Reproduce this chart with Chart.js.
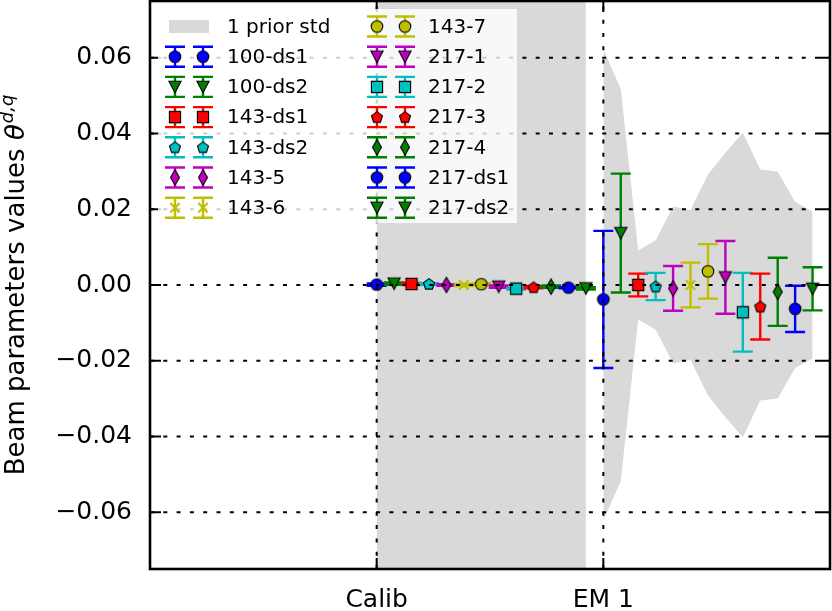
<!DOCTYPE html>
<html><head><meta charset="utf-8">
<script src="https://cdn.jsdelivr.net/npm/chart.js@4.4.0/dist/chart.umd.min.js"></script>
<style>html,body{margin:0;padding:0;background:#fff;}#wrap{width:832px;height:611px;}</style>
</head><body><div id="wrap"><canvas id="c" width="832" height="611"></canvas></div>
<script>
// ---------------- data ----------------
const categories = ['Calib', 'EM 1'];
const seriesNames = ['100-ds1','100-ds2','143-ds1','143-ds2','143-5','143-6','143-7','217-1','217-2','217-3','217-4','217-ds1','217-ds2'];
const calibValues = [0.0001, 0.00035, 0.00027, 0.00027, 0.0000, 0.0000, 0.0002, -0.00044, -0.00097, -0.0006, -0.00044, -0.0007, -0.00088];
const calibErrors = [0.0003, 0.0003, 0.0003, 0.0002, 0.0002, 0.0003, 0.0003, 0.0003, 0.0002, 0.0003, 0.0003, 0.0002, 0.0003];
const em1Values = [-0.0038, 0.0137, 0.0000, -0.0004, -0.0009, 0.0000, 0.0036, 0.0020, -0.0072, -0.0057, -0.0018, -0.0063, -0.0010];
const em1Errors = [0.0181, 0.0157, 0.0030, 0.0036, 0.0059, 0.0059, 0.0072, 0.0096, 0.0104, 0.0087, 0.0090, 0.0061, 0.0057];
const priorStdCalib = [1, 1, 1, 1, 1, 1, 1, 1, 1, 1, 1, 1, 1];
const priorStdEm1 = [0.0622, 0.0518, 0.0091, 0.0118, 0.0207, 0.0198, 0.0292, 0.0349, 0.0402, 0.0305, 0.0300, 0.0219, 0.0194];
const yTicks = [-0.06, -0.04, -0.02, 0.00, 0.02, 0.04, 0.06];
const xTicks = [0, 1];
const seriesColors = ['#0000ff','#008000','#ff0000','#00bfbf','#bf00bf','#bfbf00','#bfbf00','#bf00bf','#00bfbf','#ff0000','#008000','#0000ff','#008000'];
const seriesMarkers = ['o','v','s','p','d','x','o','v','s','p','d','o','v'];
const bandLabel = '1 prior std';
const yTitle = 'Beam parameters values ';

// ---------------- styles ----------------
const FONT = '"DejaVu Sans", "Liberation Sans", sans-serif';
const BAND = '#d9d9d9';
const N = seriesNames.length;
const ERR_W = 2.4;

function makeMarker(type, color) {
  const s = 22, c = document.createElement('canvas');
  c.width = s; c.height = s;
  const g = c.getContext('2d');
  g.translate(s / 2, s / 2);
  g.lineWidth = 1.1; g.strokeStyle = '#000'; g.fillStyle = color;
  g.beginPath();
  if (type === 'o') g.arc(0, 0, 5.8, 0, 2 * Math.PI);
  else if (type === 'v') { g.moveTo(-6.1, -5.8); g.lineTo(6.1, -5.8); g.lineTo(0, 5.8); g.closePath(); }
  else if (type === 's') g.rect(-5.6, -5.6, 11.2, 11.2);
  else if (type === 'p') {
    for (let k = 0; k < 5; k++) {
      const a = -Math.PI / 2 + k * 2 * Math.PI / 5;
      const px = 5.8 * Math.cos(a), py = 5.8 * Math.sin(a) + 0.4;
      k ? g.lineTo(px, py) : g.moveTo(px, py);
    }
    g.closePath();
  } else if (type === 'd') { g.moveTo(0, -7.7); g.lineTo(4.5, 0); g.lineTo(0, 7.7); g.lineTo(-4.5, 0); g.closePath(); }
  else if (type === 'x') {
    g.strokeStyle = color; g.lineWidth = 2.2;
    g.moveTo(-4.7, -4.7); g.lineTo(4.7, 4.7); g.moveTo(4.7, -4.7); g.lineTo(-4.7, 4.7);
    g.stroke();
    return c;
  }
  g.fill(); g.stroke();
  return c;
}
const markerImgs = seriesNames.map((n, i) => makeMarker(seriesMarkers[i], seriesColors[i]));

// ---------------- datasets ----------------
const datasets = [];
function band(std, base) {
  datasets.push({ type: 'line', data: std.map((s, i) => ({ x: base + i / N, y: s })),
    borderWidth: 0, borderColor: 'rgba(0,0,0,0)', pointRadius: 0, fill: false, order: 100, tension: 0 });
  datasets.push({ type: 'line', data: std.map((s, i) => ({ x: base + i / N, y: -s })),
    borderWidth: 0, borderColor: 'rgba(0,0,0,0)', pointRadius: 0, fill: '-1', backgroundColor: BAND, order: 100, tension: 0 });
}
band(priorStdCalib, 0);
band(priorStdEm1, 1);
seriesNames.forEach((name, i) => {
  datasets.push({
    type: 'scatter', label: name,
    data: [{ x: 0 + i / N, y: calibValues[i] }, { x: 1 + i / N, y: em1Values[i] }],
    errs: [calibErrors[i], em1Errors[i]], errColor: seriesColors[i],
    pointStyle: markerImgs[i], pointRadius: 6, pointHoverRadius: 6, order: N - i
  });
});

// ---------------- plugin ----------------
const custom = {
  id: 'custom',
  beforeDatasetDraw(chart, args) {
    const ds = chart.data.datasets[args.index];
    if (!ds.errs) return;
    const ys = chart.scales.y, ctx = chart.ctx, a = chart.chartArea;
    ctx.save();
    ctx.beginPath(); ctx.rect(a.left, a.top, a.right - a.left, a.bottom - a.top); ctx.clip();
    ctx.strokeStyle = ds.errColor; ctx.lineWidth = ERR_W;
    args.meta.data.forEach((pt, j) => {
      const v = ds.data[j].y, e = ds.errs[j], x = pt.x;
      const yt = ys.getPixelForValue(v + e), yb = ys.getPixelForValue(v - e);
      ctx.beginPath();
      ctx.moveTo(x, yt); ctx.lineTo(x, yb);
      ctx.moveTo(x - 10, yt); ctx.lineTo(x + 10, yt);
      ctx.moveTo(x - 10, yb); ctx.lineTo(x + 10, yb);
      ctx.stroke();
    });
    ctx.restore();
  },
  afterDatasetsDraw(chart) {
    const ctx = chart.ctx, a = chart.chartArea, xs = chart.scales.x, ys = chart.scales.y;
    ctx.save();
    ctx.strokeStyle = '#000'; ctx.lineWidth = 2; ctx.setLineDash([4, 9.3]);
    yTicks.forEach(v => {
      const py = ys.getPixelForValue(v);
      ctx.beginPath(); ctx.moveTo(a.left, py); ctx.lineTo(a.right, py); ctx.stroke();
    });
    xTicks.forEach(v => {
      const px = xs.getPixelForValue(v);
      ctx.beginPath(); ctx.moveTo(px, a.bottom); ctx.lineTo(px, a.top); ctx.stroke();
    });
    ctx.setLineDash([]);
    ctx.beginPath();
    yTicks.forEach(v => {
      const py = ys.getPixelForValue(v);
      ctx.moveTo(a.left, py); ctx.lineTo(a.left + 11, py);
      ctx.moveTo(a.right, py); ctx.lineTo(a.right - 11, py);
    });
    xTicks.forEach(v => {
      const px = xs.getPixelForValue(v);
      ctx.moveTo(px, a.bottom); ctx.lineTo(px, a.bottom - 11);
      ctx.moveTo(px, a.top); ctx.lineTo(px, a.top + 11);
    });
    ctx.stroke();
    ctx.lineWidth = 2.6;
    ctx.strokeRect(a.left, a.top, a.right - a.left, a.bottom - a.top);
    ctx.restore();
  },
  afterDraw(chart) {
    const ctx = chart.ctx, a = chart.chartArea;
    ctx.save();
    // legend box
    const bx = a.left + 8, by = a.top + 8;
    ctx.fillStyle = 'rgba(255,255,255,0.8)';
    ctx.fillRect(bx, by, 359, 214);
    const row0 = a.top + 25.5, dy = 30.2;
    const col = [{ m: [a.left + 25, a.left + 53], t: a.left + 77 }, { m: [a.left + 227, a.left + 255], t: a.left + 278 }];
    const items = [{ band: true, label: bandLabel }].concat(seriesNames.map((n, i) => ({ i, label: n })));
    ctx.font = '20px ' + FONT; ctx.textBaseline = 'middle'; ctx.textAlign = 'left';
    items.forEach((it, k) => {
      const c = k < 7 ? 0 : 1, r = k < 7 ? k : k - 7;
      const y = row0 + r * dy, cc = col[c];
      if (it.band) {
        ctx.fillStyle = BAND;
        ctx.fillRect(cc.m[0] - 6, y - 6.5, 40, 13);
      } else {
        ctx.strokeStyle = seriesColors[it.i]; ctx.lineWidth = ERR_W;
        cc.m.forEach(mx => {
          ctx.beginPath();
          ctx.moveTo(mx, y - 10); ctx.lineTo(mx, y + 10);
          ctx.moveTo(mx - 10, y - 10); ctx.lineTo(mx + 10, y - 10);
          ctx.moveTo(mx - 10, y + 10); ctx.lineTo(mx + 10, y + 10);
          ctx.stroke();
          const img = markerImgs[it.i];
          ctx.drawImage(img, mx - img.width / 2, y - img.height / 2);
        });
      }
      ctx.fillStyle = '#000';
      ctx.fillText(it.label, cc.t, y + 1);
    });
    // y title
    const cy = (a.top + a.bottom) / 2;
    ctx.translate(24, cy); ctx.rotate(-Math.PI / 2);
    ctx.textBaseline = 'alphabetic';
    const f1 = '26px ' + FONT, f2 = 'italic 26px ' + FONT, f3 = 'italic 18px ' + FONT;
    ctx.font = f1; const w1 = ctx.measureText(yTitle).width;
    ctx.font = f2; const w2 = ctx.measureText('θ').width;
    ctx.font = f3; const w3 = ctx.measureText('d,q').width;
    let x0 = -(w1 + w2 + w3 + 1) / 2;
    ctx.fillStyle = '#000';
    ctx.font = f1; ctx.fillText(yTitle, x0, 0);
    ctx.font = f2; ctx.fillText('θ', x0 + w1, 0);
    ctx.font = f3; ctx.fillText('d,q', x0 + w1 + w2 + 1, -11);
    ctx.restore();
  }
};

// ---------------- chart ----------------
new Chart(document.getElementById('c'), {
  type: 'scatter',
  data: { datasets },
  plugins: [custom],
  options: {
    responsive: false, animation: false, devicePixelRatio: 1, events: [],
    layout: { autoPadding: false, padding: { top: 1, right: 2, left: 0, bottom: 0 } },
    plugins: { legend: { display: false }, tooltip: { enabled: false },
      filler: { propagate: false, drawTime: 'beforeDatasetsDraw' } },
    scales: {
      x: {
        type: 'linear', min: -1, max: 2,
        afterBuildTicks: s => { s.ticks = xTicks.map(v => ({ value: v })); },
        afterFit: s => { s.height = 42; s.paddingLeft = 0; s.paddingRight = 0; },
        ticks: { callback: (v, i) => categories[i], color: '#000', font: { family: FONT, size: 25 }, padding: 16, maxRotation: 0, autoSkip: false },
        grid: { display: false, drawTicks: false }, border: { display: false }
      },
      y: {
        type: 'linear', min: -0.075, max: 0.075,
        afterBuildTicks: s => { s.ticks = yTicks.map(v => ({ value: v })); },
        afterFit: s => { s.width = 150; s.paddingTop = 0; s.paddingBottom = 0; },
        ticks: { callback: v => (v < -1e-9 ? '\u2212' : '') + Math.abs(v).toFixed(2), color: '#000', font: { family: FONT, size: 25 }, padding: 18, autoSkip: false },
        grid: { display: false, drawTicks: false }, border: { display: false }
      }
    }
  }
});
</script></body></html>
